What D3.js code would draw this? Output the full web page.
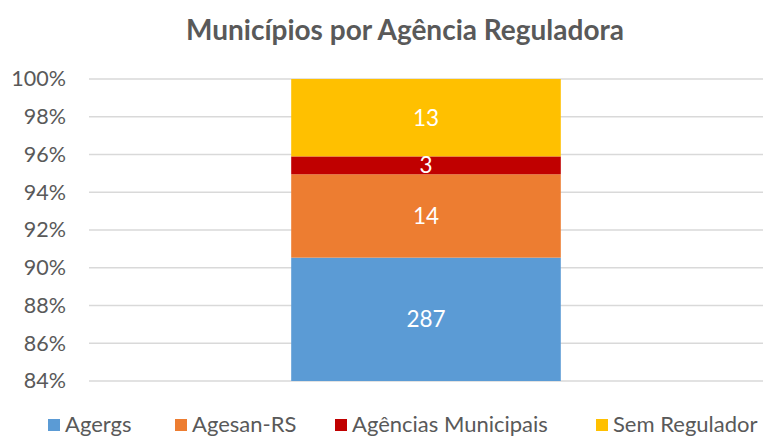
<!DOCTYPE html>
<html><head><meta charset="utf-8">
<script src="https://cdn.jsdelivr.net/npm/d3@7"></script>
<style>body{margin:0;background:#fff}svg{display:block}</style>
</head><body>
<script>
const title = "Municípios por Agência Reguladora";
const categories = ["Municípios"];
const seriesNames = ["Agergs", "Agesan-RS", "Agências Municipais", "Sem Regulador"];
const seriesValues = [287, 14, 3, 13];
const seriesColors = ["#5B9BD5", "#ED7D31", "#C00000", "#FFC000"];
const tickValues = [0.84, 0.86, 0.88, 0.90, 0.92, 0.94, 0.96, 0.98, 1.00];

(function () {
const W = 769, H = 439;
const font = "Lato, 'Open Sans', sans-serif";
const svg = d3.select("body").append("svg").attr("width", W).attr("height", H);

const mL = 89, mR = 763, mT = 79, mB = 381;
const x = d3.scaleBand().domain(categories).range([mL, mR]).paddingInner(0).paddingOuter(0.75);
const y = d3.scaleLinear().domain([0.84, 1.0]).range([mB, mT]);

svg.append("text").attr("x", 405).attr("y", 40).attr("text-anchor", "middle")
  .attr("font-family", font).attr("font-weight", "bold").attr("font-size", 28)
  .attr("fill", "#595959").text(title);

const grid = svg.append("g");
grid.selectAll("line").data(tickValues).join("line")
  .attr("x1", mL).attr("x2", mR)
  .attr("y1", d => y(d)).attr("y2", d => y(d))
  .attr("stroke", "#d9d9d9").attr("stroke-width", 1.3);

const yAxis = d3.axisLeft(y).tickValues(tickValues).tickFormat(d3.format(".0%")).tickSize(0).tickPadding(0);
const ga = svg.append("g").attr("transform", `translate(${mL - 23},0)`).call(yAxis);
ga.select(".domain").remove();
ga.selectAll("text").attr("font-family", font).attr("font-size", 21.5).attr("fill", "#595959");

const total = d3.sum(seriesValues);
let cum = 0;
const stacks = seriesValues.map((v, i) => { const s = {name: seriesNames[i], v, y0: cum / total, y1: (cum + v) / total, c: seriesColors[i]}; cum += v; return s; });

const clipY = v => Math.max(v, 0.84);
svg.append("g").selectAll("rect").data(stacks).join("rect")
  .attr("x", x(categories[0])).attr("width", x.bandwidth())
  .attr("y", d => y(d.y1)).attr("height", d => y(clipY(d.y0)) - y(d.y1))
  .attr("fill", d => d.c);

svg.append("g").selectAll("text").data(stacks).join("text")
  .attr("x", x(categories[0]) + x.bandwidth() / 2)
  .attr("y", d => (y(d.y1) + y(clipY(d.y0))) / 2)
  .attr("dy", "0.36em").attr("text-anchor", "middle")
  .attr("font-family", font).attr("font-size", 22.5).attr("fill", "#fff")
  .text(d => d.v);

const legendX = [48, 175, 335, 596];
const lg = svg.append("g").selectAll("g").data(seriesNames).join("g")
  .attr("transform", (d, i) => `translate(${legendX[i]},424)`);
lg.append("rect").attr("x", 0).attr("y", -5).attr("width", 12).attr("height", 12).attr("fill", (d, i) => seriesColors[i]);
lg.append("text").attr("x", 17).attr("dy", "0.36em").attr("font-family", font).attr("font-size", 22)
  .attr("fill", "#595959").text(d => d);
})();
</script>
</body></html>
